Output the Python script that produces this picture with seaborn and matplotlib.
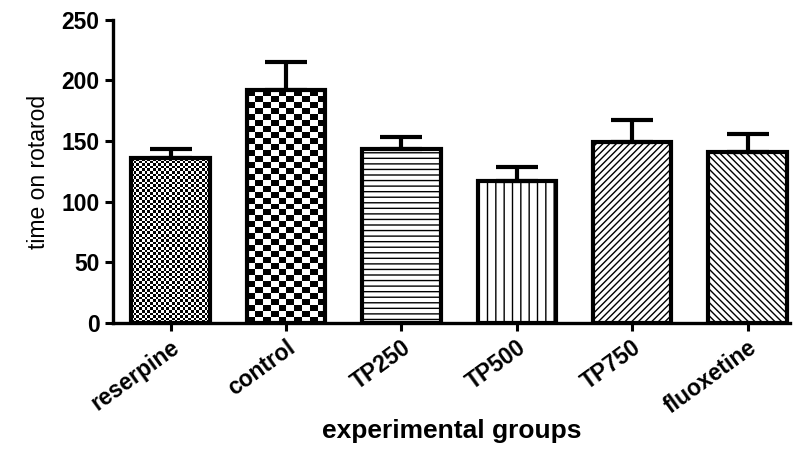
import numpy as np
import matplotlib
matplotlib.use("Agg")
import matplotlib.pyplot as plt
import seaborn as sns

# ── Data ─────────────────────────────────────────────────────────────────────
groups = ["reserpine", "control", "TP250", "TP500", "TP750", "fluoxetine"]
means = [136, 192, 143.5, 117, 149, 141]
sem = [7.5, 23, 10, 11.5, 18.5, 15]

# ── Style ────────────────────────────────────────────────────────────────────
sns.set_theme(style="ticks")
plt.rcParams["font.family"] = ["Liberation Sans", "DejaVu Sans"]
plt.rcParams.update({
    "hatch.linewidth": 1.0,
    "text.color": "black",
    "axes.labelcolor": "black",
    "xtick.color": "black",
    "ytick.color": "black",
})

fig = plt.figure(figsize=(7.95, 4.5), dpi=100)
ax = fig.add_axes([0.142, 0.282, 0.852, 0.674])

sns.barplot(x=groups, y=means, color="white", saturation=1, edgecolor="black",
            linewidth=3, width=0.68, errorbar=None, ax=ax)

# hatch / texture per bar: None means checkerboard texture (cell px)
hatches = [None, None, "---", "||", "/////", "\\\\\\\\\\"]
checker = {0: (2.7, 2.6), 1: (8.0, 6.0)}
for p, h in zip(ax.patches, hatches):
    if h:
        p.set_hatch(h)

ax.set_xlim(-0.5, 5.37)
ax.set_ylim(0, 250)
ax.set_yticks(np.arange(0, 251, 50))

# upper-only error bars
centers = [p.get_x() + p.get_width() / 2 for p in ax.patches]
ax.errorbar(centers, means, yerr=[np.zeros(len(sem)), sem], fmt="none",
            ecolor="black", elinewidth=3, capsize=15, capthick=3, zorder=1)

# checkerboard fills, clipped to bar shapes
fig.canvas.draw()
for i, (cw, ch) in checker.items():
    p = ax.patches[i]
    bb = p.get_window_extent()
    nx = max(int(round(bb.width / cw)), 1)
    ny = max(int(round(bb.height / ch)), 1)
    board = (np.indices((ny, nx)).sum(axis=0) % 2).astype(float)
    x0, y0 = p.get_x(), p.get_y()
    im = ax.imshow(board, cmap="gray", vmin=0, vmax=1, interpolation="nearest",
                   extent=[x0, x0 + p.get_width(), y0, y0 + p.get_height()],
                   aspect="auto", zorder=p.get_zorder() + 0.01)
    im.set_clip_path(p)
    # keep the bar outline on top of the texture
    p.set_zorder(p.get_zorder() + 0.02)
    p.set_facecolor("none")

ax.set_xlim(-0.5, 5.37)
ax.set_ylim(0, 250)

sns.despine(ax=ax)
for s in ["left", "bottom"]:
    ax.spines[s].set_linewidth(2.4)
    ax.spines[s].set_color("black")
ax.tick_params(axis="both", direction="out", length=6, width=2.2, color="black")
ax.tick_params(axis="y", labelsize=16.5)
ax.tick_params(axis="x", labelsize=16.5)
for t in ax.get_yticklabels():
    t.set_fontweight("bold")
for t in ax.get_xticklabels():
    t.set_fontweight("bold")
    t.set_rotation(36)
    t.set_ha("right")
    t.set_rotation_mode("anchor")

ax.set_ylabel("time on rotarod", fontsize=16.5, labelpad=8)
ax.set_xlabel("experimental groups", fontsize=19, fontweight="bold", va="center")
ax.xaxis.set_label_coords(0.5, -0.355)

fig.savefig("out.png", dpi=100, facecolor="white")
plt.close(fig)
